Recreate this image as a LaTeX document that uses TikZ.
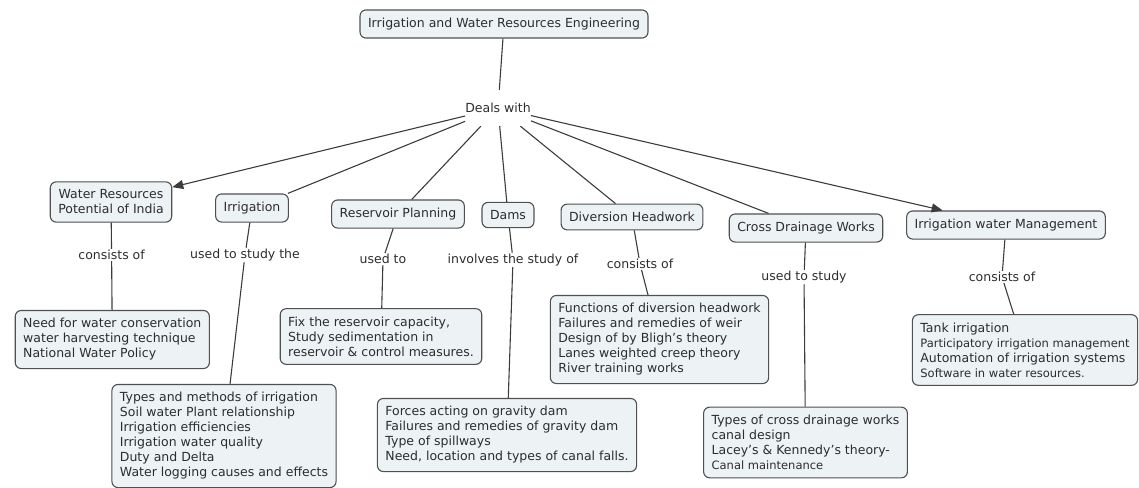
\documentclass[tikz,border=0pt]{standalone}
\usepackage{fontspec}
\setmainfont{DejaVu Sans}
\usetikzlibrary{arrows.meta,positioning}
\definecolor{boxFill}{RGB}{237, 242, 245}
\definecolor{boxDraw}{RGB}{80, 80, 80}
\definecolor{textGray}{RGB}{45, 45, 45}
\definecolor{lineGray}{RGB}{60, 60, 60}

\begin{document}
\begin{tikzpicture}[
    x=1pt, y=-1pt,
    font=\fontsize{12.5}{15}\selectfont,
    concept/.style={
        rectangle, draw=boxDraw, line width=1.1pt, fill=boxFill,
        rounded corners=6pt, inner xsep=8pt, inner ysep=8pt,
        align=center, text=textGray
    },
    detail/.style={concept, align=left},
    linklbl/.style={inner sep=1pt, text=textGray},
    link/.style={draw=lineGray, line width=1.1pt},
    arr/.style={link, -{Triangle[length=11pt, width=9pt]}}
]
    \useasboundingbox (0,0) rectangle (1139,487);

    % Root concept and its linking phrase
    \node [concept] (ttop) at (504, 24) {Irrigation and Water Resources Engineering};
    \node [linklbl, inner xsep=0pt, minimum height=36pt] (tdeals) at (498, 108) {Deals with};
    \draw [link] (ttop) -- (tdeals);

    % First level concepts
    \node [concept] (twrpi) at (111, 202) {Water Resources\\Potential of India};
    \node [concept] (tirr)  at (252, 208) {Irrigation};
    \node [concept] (tres)  at (398, 214) {Reservoir Planning};
    \node [concept] (tdams) at (508, 215) {Dams};
    \node [concept] (tdiv)  at (632, 217) {Diversion Headwork};
    \node [concept] (tcdw)  at (806, 228) {Cross Drainage Works};
    \node [concept] (tiwm)  at (1006, 225) {Irrigation water Management};

    \draw [arr]  (tdeals) -- (twrpi);
    \draw [link] (tdeals) -- (tirr);
    \draw [link] (tdeals) -- (tres);
    \draw [link] (tdeals) -- (tdams);
    \draw [link] (tdeals) -- (tdiv);
    \draw [link] (tdeals) -- (tcdw);
    \draw [arr]  (tdeals) -- (tiwm);

    % Linking phrases below each concept
    \node [linklbl] (lwrpi) at (111.6, 255) {consists of};
    \node [linklbl] (lirr)  at (245, 255) {used to study the};
    \node [linklbl] (lres)  at (383, 259) {used to};
    \node [linklbl] (ldams) at (513, 260) {involves the study of};
    \node [linklbl] (ldiv)  at (640, 264) {consists of};
    \node [linklbl] (lcdw)  at (804, 277) {used to study};
    \node [linklbl] (liwm)  at (1002, 277) {consists of};

    % Detail boxes
    \node [detail] (bwrpi) at (112.3, 339.5) {
        Need for water conservation\\
        water harvesting technique\\
        National Water Policy
    };
    \node [detail] (birr) at (224, 436) {
        Types and methods of irrigation\\
        Soil water Plant relationship\\
        Irrigation efficiencies\\
        Irrigation water quality\\
        Duty and Delta\\
        Water logging causes and effects
    };
    \node [detail] (bres) at (381, 336.5) {
        Fix the reservoir capacity,\\
        Study sedimentation in\\
        reservoir \& control measures.
    };
    \node [detail] (bdams) at (507, 435) {
        Forces acting on gravity dam\\
        Failures and remedies of gravity dam\\
        Type of spillways\\
        Need, location and types of canal falls.
    };
    \node [detail] (bdiv) at (659.5, 339.5) {
        Functions of diversion headwork\\
        Failures and remedies of weir\\
        Design of by Bligh’s theory\\
        Lanes weighted creep theory\\
        River training works
    };
    \node [detail] (bcdw) at (805.5, 442.5) {
        Types of cross drainage works\\
        canal design\\
        Lacey’s \& Kennedy’s theory-\\
        {\fontsize{11.5}{15}\selectfont Canal maintenance}
    };
    \node [detail] (biwm) at (1025, 350) {
        Tank irrigation\\
        {\fontsize{11.5}{15}\selectfont Participatory irrigation management}\\
        Automation of irrigation systems\\
        {\fontsize{11.5}{15}\selectfont Software in water resources.}
    };

    % Concept -- phrase -- detail links
    \draw [link] (twrpi) -- (lwrpi);  \draw [link] (lwrpi) -- (bwrpi);
    \draw [link] (tirr)  -- (lirr);   \draw [link] (lirr)  -- (birr);
    \draw [link] (tres)  -- (lres);   \draw [link] (lres)  -- (bres);
    \draw [link] (tdams) -- (ldams);  \draw [link] (ldams) -- (bdams);
    \draw [link] (tdiv)  -- (ldiv);   \draw [link] (ldiv)  -- (bdiv);
    \draw [link] (tcdw)  -- (lcdw);   \draw [link] (lcdw)  -- (bcdw);
    \draw [link] (tiwm)  -- (liwm);   \draw [link] (liwm)  -- (biwm);

\end{tikzpicture}
\end{document}
